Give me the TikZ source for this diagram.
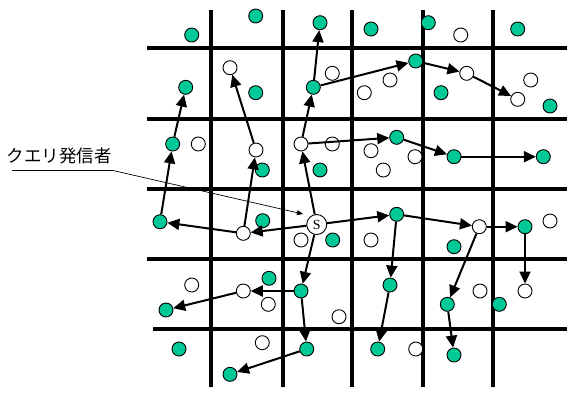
\documentclass[tikz,border=0pt]{standalone}
\usepackage{fontspec}
\newfontfamily\jpfont{Noto Sans CJK JP}
\setmainfont{Liberation Serif}
\usetikzlibrary{arrows.meta}
\definecolor{peergreen}{RGB}{0,200,150}
\begin{document}
\begin{tikzpicture}[x=1pt, y=-1pt,
    gpeer/.style={circle, draw, line width=0.9pt, fill=peergreen, minimum size=14pt, inner sep=0pt},
    wpeer/.style={circle, draw, line width=0.9pt, fill=white, minimum size=14pt, inner sep=0pt},
    grid/.style={line width=4.8pt},
    hop/.style={line width=2pt, -{Triangle[length=12pt, width=11pt]}},
    callout/.style={line width=0.7pt, -{Triangle[length=6pt, width=5pt]}}]
    \useasboundingbox (0,0) rectangle (567,392);
    % grid
    \draw[grid] (147,48) -- (567,48);
    \draw[grid] (147,119) -- (567,119);
    \draw[grid] (147,189) -- (567,189);
    \draw[grid] (147,259) -- (567,259);
    \draw[grid] (153,329) -- (567,329);
    \draw[grid] (211,10) -- (211,387);
    \draw[grid] (283,10) -- (283,387);
    \draw[grid] (352,10) -- (352,387);
    \draw[grid] (423,10) -- (423,387);
    \draw[grid] (493,10) -- (493,387);
    % peers
    \node[gpeer] (g1) at (191.7,35) {};
    \node[gpeer] (g2) at (255.7,16) {};
    \node[gpeer] (g3) at (320,22.7) {};
    \node[gpeer] (g4) at (185.7,87.3) {};
    \node[gpeer] (g5) at (255.7,92.7) {};
    \node[gpeer] (g6) at (313.3,87.3) {};
    \node[gpeer] (g7) at (172.7,144) {};
    \node[gpeer] (g8) at (262.3,170) {};
    \node[gpeer] (g9) at (320,170) {};
    \node[gpeer] (g10) at (371,29) {};
    \node[gpeer] (g11) at (428.3,22.7) {};
    \node[gpeer] (g12) at (517.7,29) {};
    \node[gpeer] (g13) at (415.7,61) {};
    \node[gpeer] (g14) at (441,92.7) {};
    \node[gpeer] (g15) at (550,106) {};
    \node[gpeer] (g16) at (396.7,137.3) {};
    \node[gpeer] (g17) at (454,156.7) {};
    \node[gpeer] (g18) at (543.3,156.7) {};
    \node[gpeer] (g19) at (160,221.7) {};
    \node[gpeer] (g20) at (262.7,220.7) {};
    \node[gpeer] (g21) at (332.7,240) {};
    \node[gpeer] (g22) at (269,278.3) {};
    \node[gpeer] (g23) at (301,291) {};
    \node[gpeer] (g24) at (166,310) {};
    \node[gpeer] (g25) at (179,349) {};
    \node[gpeer] (g26) at (306.7,349) {};
    \node[gpeer] (g27) at (230,374.3) {};
    \node[gpeer] (g28) at (396.7,214.3) {};
    \node[gpeer] (g29) at (525,226.7) {};
    \node[gpeer] (g30) at (454,246.7) {};
    \node[gpeer] (g31) at (390,285) {};
    \node[gpeer] (g32) at (447.3,304.3) {};
    \node[gpeer] (g33) at (499.3,304.3) {};
    \node[gpeer] (g34) at (377.7,349) {};
    \node[gpeer] (g35) at (454,355) {};
    \node[wpeer] (w1) at (230,67.7) {};
    \node[wpeer] (w2) at (332.3,73.3) {};
    \node[wpeer] (w3) at (198.3,144) {};
    \node[wpeer] (w4) at (256,150) {};
    \node[wpeer] (w5) at (301,144) {};
    \node[wpeer] (w6) at (332.3,144) {};
    \node[wpeer] (w7) at (460.7,35) {};
    \node[wpeer] (w8) at (466.7,73.3) {};
    \node[wpeer] (w9) at (390,80) {};
    \node[wpeer] (w10) at (364.3,92.7) {};
    \node[wpeer] (w11) at (530.7,80) {};
    \node[wpeer] (w12) at (517.7,99.3) {};
    \node[wpeer] (w13) at (371,150.7) {};
    \node[wpeer] (w14) at (415,156.7) {};
    \node[wpeer] (w15) at (383.3,170) {};
    \node[wpeer] (w16) at (243.3,233.3) {};
    \node[wpeer] (w17) at (301,240) {};
    \node[wpeer] (w18) at (191.7,285) {};
    \node[wpeer] (w19) at (243.3,291) {};
    \node[wpeer] (w20) at (268.3,304.3) {};
    \node[wpeer] (w21) at (339,316.7) {};
    \node[wpeer] (w22) at (262.3,342.7) {};
    \node[wpeer] (w23) at (479.3,226.7) {};
    \node[wpeer] (w24) at (550,221) {};
    \node[wpeer] (w25) at (371,240) {};
    \node[wpeer] (w26) at (480,291) {};
    \node[wpeer] (w27) at (525,291) {};
    \node[wpeer] (w28) at (415.7,349) {};
    \node[wpeer, minimum size=20pt, font=\fontsize{14}{14}\selectfont] (s) at (316.7,224.5) {S};
    % query forwarding
    \draw[hop] (s) -- (w16);
    \draw[hop] (w16) -- (g19);
    \draw[hop] (w16) -- (w4);
    \draw[hop] (w4) -- (w1);
    \draw[hop] (g19) -- (g7);
    \draw[hop] (g7) -- (g4);
    \draw[hop] (s) -- (w5);
    \draw[hop] (w5) -- (g6);
    \draw[hop] (g6) -- (g3);
    \draw[hop] (g6) -- (g13);
    \draw[hop] (g13) -- (w8);
    \draw[hop] (w8) -- (w12);
    \draw[hop] (w5) -- (g16);
    \draw[hop] (g16) -- (g17);
    \draw[hop] (g17) -- (g18);
    \draw[hop] (s) -- (g28);
    \draw[hop] (g28) -- (w23);
    \draw[hop] (w23) -- (g29);
    \draw[hop] (g29) -- (w27);
    \draw[hop] (g28) -- (g31);
    \draw[hop] (g31) -- (g34);
    \draw[hop] (w23) -- (g32);
    \draw[hop] (g32) -- (g35);
    \draw[hop] (s) -- (g23);
    \draw[hop] (g23) -- (w19);
    \draw[hop] (w19) -- (g24);
    \draw[hop] (g23) -- (g26);
    \draw[hop] (g26) -- (g27);
    % label
    \node[font=\jpfont\fontsize{17.5}{17.5}\selectfont, inner sep=0pt] (lbl) at (59,156) {クエリ発信者};
    \coordinate (ulA) at (12,170.5);
    \coordinate (ulB) at (113,170.5);
    \coordinate (tip) at (303,214);
    \draw[callout] (ulA) -- (ulB) -- (tip);
\end{tikzpicture}
\end{document}
